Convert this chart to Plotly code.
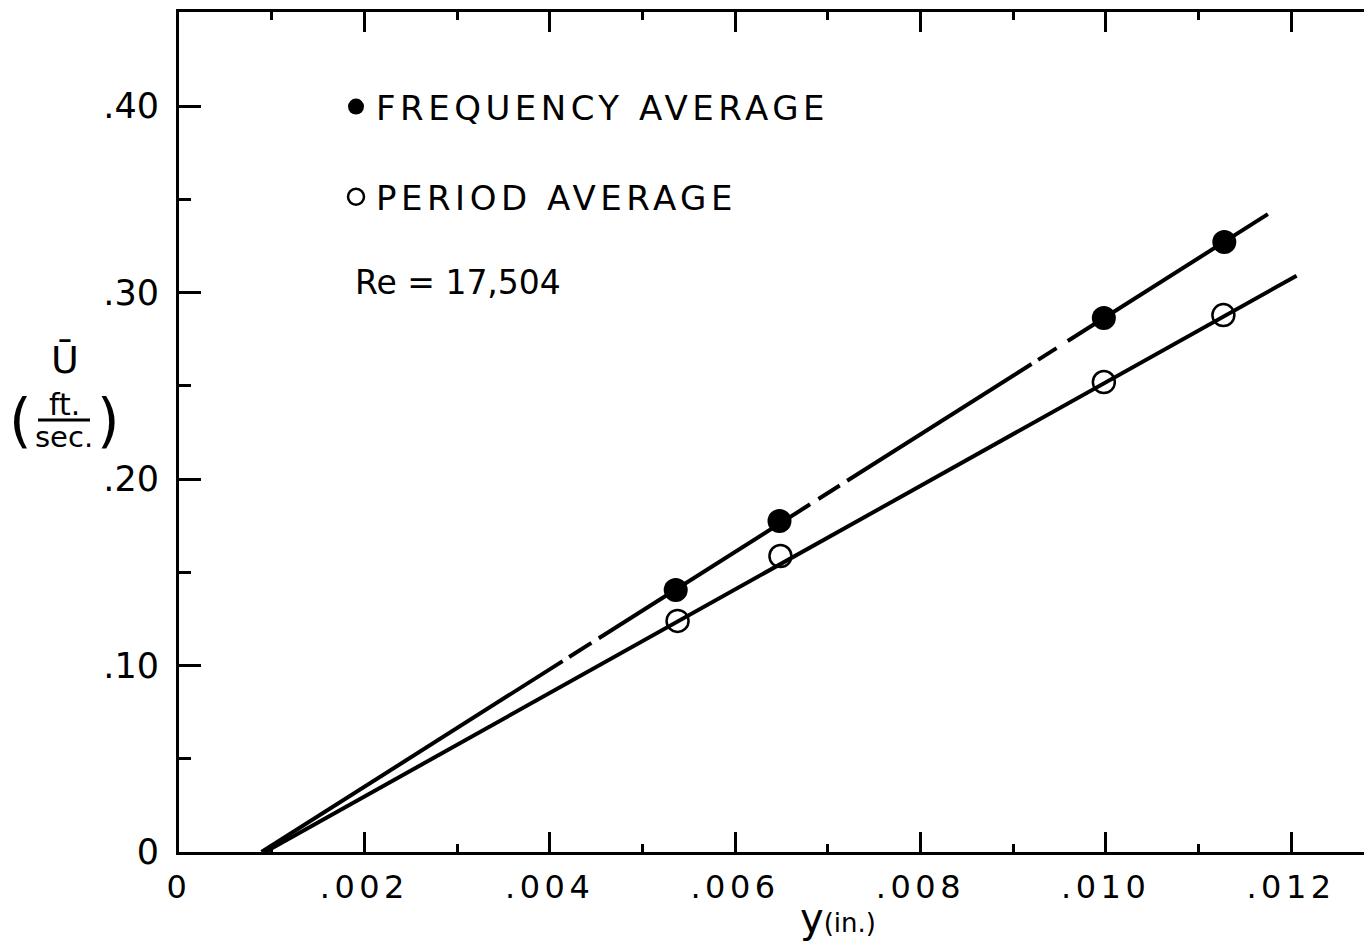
import numpy as np
import plotly.graph_objects as go

# ---- data ----
# distance from wall y (in.) and mean velocity U (ft/sec)
y_freq = [0.00536, 0.00648, 0.00998, 0.01128]
u_freq = [0.1405, 0.1775, 0.2863, 0.3271]
y_per = [0.00538, 0.00649, 0.00998, 0.01127]
u_per = [0.1239, 0.1587, 0.2520, 0.2879]

# hand-drawn fit lines (end points)
freq_fit_y = [0.00089, 0.01175]
freq_fit_u = [0.0, 0.342]
per_fit_y = [0.00093, 0.01206]
per_fit_u = [0.0, 0.309]

# pieces of the frequency line that were inked (rest is left blank -> dashes)
freq_pieces = [(0.00089, 0.00414), (0.00421, 0.00445), (0.00453, 0.00681),
               (0.00690, 0.00713), (0.00721, 0.00920), (0.00927, 0.00947),
               (0.00959, 0.01175)]

x_ticks = [0, 0.002, 0.004, 0.006, 0.008, 0.010, 0.012]
x_labels = ["0", ".002", ".004", ".006", ".008", ".010", ".012"]
u_ticks = [0, 0.10, 0.20, 0.30, 0.40]
u_labels = ["0", ".10", ".20", ".30", ".40"]

# ---- layout geometry (page pixels; page body has an 8px margin) ----
OFF = 8
W, H = 1372 - OFF, 945 - OFF
L, R, T, B = 179 - OFF, 0, 12 - OFF, 93
PW, PH = W - L - R, H - T - B
X_MAX = PW / 92670.0
U_MAX = PH / 1865.0
FONT = "DejaVu Sans"


def px(x):
    return (x - OFF - L) / PW


def py(y):
    return (H - B - (y - OFF)) / PH


def spaced(s, sp):
    return "<span style='letter-spacing:%spx'>%s</span>" % (sp, s)


fig = go.Figure()

# frequency-average line, broken into pieces
lx, lu = [], []
for a, b in freq_pieces:
    lx += [a, b, None]
    lu += [float(np.interp(a, freq_fit_y, freq_fit_u)),
           float(np.interp(b, freq_fit_y, freq_fit_u)), None]
fig.add_trace(go.Scatter(x=lx, y=lu, mode="lines", showlegend=False,
                         line=dict(color="black", width=4), hoverinfo="skip"))

fig.add_trace(go.Scatter(x=per_fit_y, y=per_fit_u, mode="lines", showlegend=False,
                         line=dict(color="black", width=4), hoverinfo="skip"))

fig.add_trace(go.Scatter(
    x=y_freq, y=u_freq, mode="markers", legendgroup="f",
    name=spaced("FREQUENCY AVERAGE", 4.5),
    marker=dict(symbol="circle", size=24, color="black")))

fig.add_trace(go.Scatter(
    x=y_per, y=u_per, mode="markers", legendgroup="p",
    name=spaced("PERIOD AVERAGE", 4.5),
    marker=dict(symbol="circle-open", size=22, color="black",
                line=dict(width=2.5, color="black"))))

ann = []
ann.append(dict(text="Re = 17,504", x=px(353), y=py(283), xanchor="left",
                yanchor="middle", font=dict(size=33)))
# y-axis title: U-bar (ft./sec.)
ann.append(dict(text="Ū", x=px(65), y=py(360), font=dict(size=38)))
ann.append(dict(text="ft.", x=px(64), y=py(404), font=dict(size=30)))
ann.append(dict(text="sec.", x=px(64), y=py(437), font=dict(size=29)))
ann.append(dict(text="(", x=px(20), y=py(421), font=dict(size=58)))
ann.append(dict(text=")", x=px(108), y=py(421), font=dict(size=58)))
# x-axis title
ann.append(dict(text="y<span style='font-size:26px'>(in.)</span>",
                x=px(838), y=py(918), font=dict(size=40)))
for a in ann:
    a.update(xref="paper", yref="paper", showarrow=False)
    a.setdefault("xanchor", "center")
    a.setdefault("yanchor", "middle")
    a["font"].update(family=FONT, color="black")

fig.update_layout(
    width=W, height=H,
    margin=dict(l=L, r=R, t=T, b=B),
    paper_bgcolor="white", plot_bgcolor="white",
    font=dict(family=FONT, color="black"),
    annotations=ann,
    shapes=[dict(type="line", xref="paper", yref="paper",
                 x0=px(38), x1=px(90), y0=py(420), y1=py(420),
                 line=dict(color="black", width=3))],
    legend=dict(x=px(336), y=py(78), xanchor="left", yanchor="top",
                bgcolor="rgba(0,0,0,0)", font=dict(size=34, family=FONT),
                tracegroupgap=43, itemsizing="trace"),
    xaxis=dict(range=[0, X_MAX], showgrid=False, zeroline=False,
               showline=True, linewidth=3, linecolor="black", mirror="ticks",
               ticks="inside", ticklen=20, tickwidth=3, tickcolor="black",
               tickvals=x_ticks, ticktext=[spaced(t, 4.5) for t in x_labels],
               tickfont=dict(size=32), ticklabelstandoff=5,
               minor=dict(dtick=0.001, ticks="inside", ticklen=8,
                          tickwidth=3, tickcolor="black")),
    yaxis=dict(range=[0, U_MAX], showgrid=False, zeroline=False,
               showline=True, linewidth=3, linecolor="black",
               ticks="inside", ticklen=22, tickwidth=3, tickcolor="black",
               tickvals=u_ticks, ticktext=u_labels,
               tickfont=dict(size=35), ticklabelstandoff=10,
               minor=dict(dtick=0.05, ticks="inside", ticklen=12,
                          tickwidth=3, tickcolor="black")),
    yaxis2=dict(range=[0, U_MAX], overlaying="y", side="right",
                showgrid=False, zeroline=False, showline=False,
                ticks="inside", ticklen=14, tickwidth=3, tickcolor="black",
                tickvals=u_ticks, showticklabels=False,
                minor=dict(dtick=0.05, ticks="inside", ticklen=5,
                           tickwidth=3, tickcolor="black")),
)

fig.write_html("out.html")
